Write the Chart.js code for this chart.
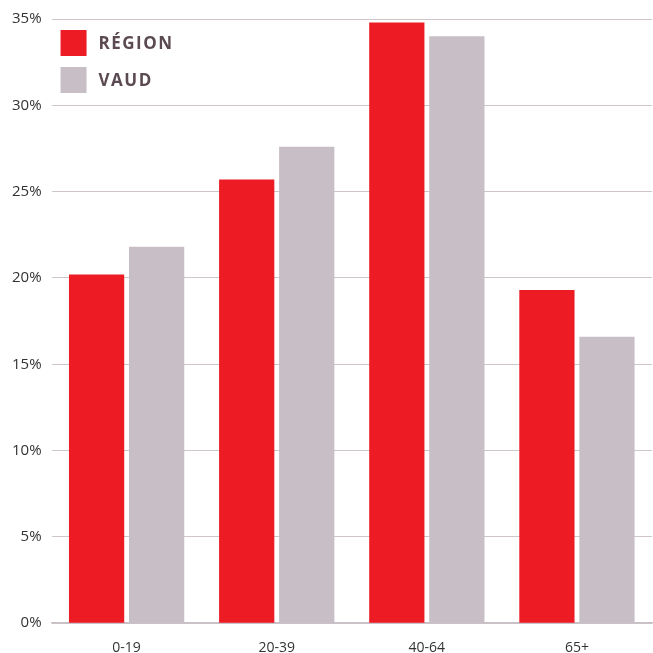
<!DOCTYPE html>
<html>
<head>
<meta charset="utf-8">
<script src="https://cdn.jsdelivr.net/npm/chart.js@4.4.1/dist/chart.umd.min.js"></script>
<style>
  html, body { margin: 0; padding: 0; background: #fff; overflow: hidden; }
  #wrap { width: 653px; height: 664px; }
</style>
</head>
<body>
<div id="wrap"><canvas id="chart"></canvas></div>
<script>
const categories = ['0-19', '20-39', '40-64', '65+'];
const regionValues = [20.2, 25.7, 34.8, 19.3];
const vaudValues = [21.8, 27.6, 34.0, 16.6];
const seriesLabels = ['RÉGION', 'VAUD'];

const COLOR_RED = '#ED1C24';
const COLOR_GREY = '#C8BEC5';
const TEXT = '#333333';

// legend drawn inside the plot, top-left
const insideLegend = {
  id: 'insideLegend',
  afterDraw(chart) {
    const { ctx, chartArea } = chart;
    ctx.save();
    chart.data.datasets.forEach((ds, i) => {
      const x = chartArea.left + 9;
      const y = chartArea.top + 11 + i * 37;
      ctx.fillStyle = ds.backgroundColor;
      ctx.fillRect(x, y, 26, 26);
      ctx.fillStyle = '#5B4A52';
      ctx.font = 'bold 17px "Open Sans"';
      ctx.textBaseline = 'middle';
      if ('letterSpacing' in ctx) ctx.letterSpacing = '1.5px';
      ctx.fillText(ds.label, x + 38, y + 14);
    });
    ctx.restore();
  },
};

new Chart(document.getElementById('chart'), {
  type: 'bar',
  data: {
    labels: categories,
    datasets: [
      { label: seriesLabels[0], data: regionValues, backgroundColor: COLOR_RED },
      { label: seriesLabels[1], data: vaudValues, backgroundColor: COLOR_GREY },
    ],
  },
  options: {
    responsive: true,
    maintainAspectRatio: false,
    animation: false,
    layout: { padding: { top: 10, right: 1, left: 2, bottom: 0 } },
    datasets: { bar: { categoryPercentage: 0.8, barPercentage: 0.92 } },
    plugins: {
      legend: { display: false },
      tooltip: { enabled: false },
    },
    scales: {
      x: {
        grid: { display: false },
        border: { color: '#C8BEC5', width: 1.5 },
        ticks: { color: TEXT, font: { family: 'Open Sans', size: 14 }, padding: 8 },
      },
      y: {
        min: 0,
        max: 35,
        ticks: {
          stepSize: 5,
          color: TEXT,
          font: { family: 'Open Sans', size: 15 },
          padding: 10,
          callback: (v) => v + '%',
        },
        grid: { color: '#CFC6CB', lineWidth: 1, drawTicks: false },
        border: { display: false },
      },
    },
  },
  plugins: [insideLegend],
});
</script>
</body>
</html>
